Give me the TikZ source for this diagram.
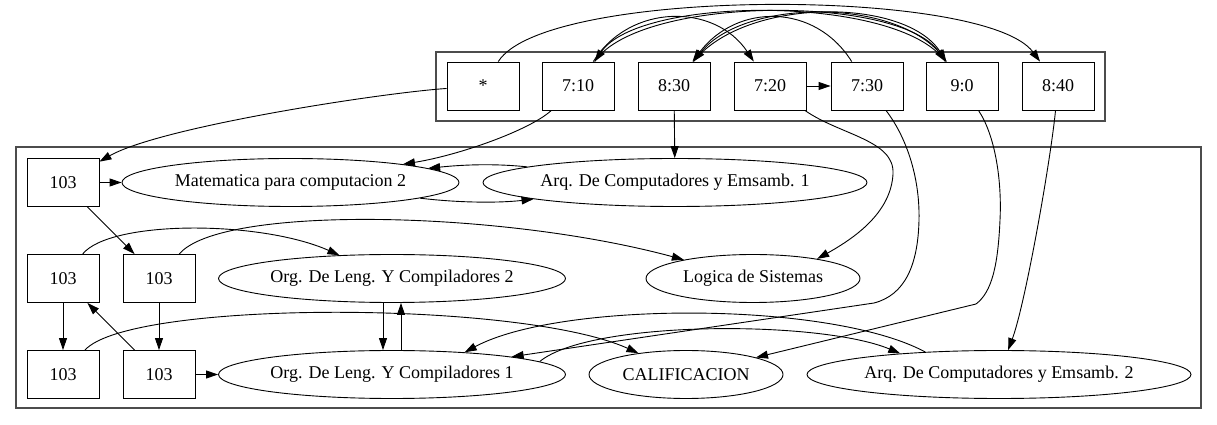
\documentclass[tikz,border=0pt]{standalone}
\usepackage{fontspec}
\setmainfont{Liberation Serif}
\usetikzlibrary{shapes.geometric,arrows.meta}

\tikzset{
  slot/.style={draw, rectangle, minimum width=72pt, minimum height=48pt, inner sep=0pt},
  curso/.style={draw, ellipse, minimum height=48pt, inner sep=0pt},
  grupo/.style={draw=black!70, line width=1.3pt}
}

\begin{document}
\begin{tikzpicture}[x=1pt,y=1pt,line width=0.9pt,
    >={Triangle[length=12pt,width=8pt]},
    font=\fontsize{18}{21}\selectfont]
  \useasboundingbox (0,0) rectangle (1217,425);

  \draw[grupo] (436,304) rectangle (1105,373);
  \draw[grupo] (16,17) rectangle (1201,278);

  % horarios
  \node[slot] (star) at (483,339) {*};
  \node[slot] (t710) at (578,339) {7:10};
  \node[slot] (t830) at (674,339) {8:30};
  \node[slot] (t720) at (770,339) {7:20};
  \node[slot] (t730) at (867,339) {7:30};
  \node[slot] (t900) at (962,339) {9:0};
  \node[slot] (t840) at (1058,339) {8:40};

  % salones y cursos
  \node[slot] (r1) at (63,242.5) {103};
  \node[curso, minimum width=337pt] (mat2) at (290.5,242.5) {Matematica para computacion 2};
  \node[curso, minimum width=384pt] (arq1) at (675,242.5) {Arq. De Computadores y Emsamb. 1};

  \node[slot] (r2a) at (63,146.5) {103};
  \node[slot] (r2b) at (159,146.5) {103};
  \node[curso, minimum width=347pt] (org2) at (392,146.5) {Org. De Leng. Y Compiladores 2};
  \node[curso, minimum width=214pt] (logica) at (753,146.5) {Logica de Sistemas};

  \node[slot] (r3a) at (63,50.5) {103};
  \node[slot] (r3b) at (159,50.5) {103};
  \node[curso, minimum width=347pt] (org1) at (392,50.5) {Org. De Leng. Y Compiladores 1};
  \node[curso, minimum width=194pt] (calif) at (686,50.5) {CALIFICACION};
  \node[curso, minimum width=384pt] (arq2) at (999,50.5) {Arq. De Computadores y Emsamb. 2};

  \draw[->] (star) .. controls (545,438) and (985,438) .. (t840);
  \draw[->] (t710) .. controls (640,430) and (900,430) .. (t900);
  \draw[->] (t900) .. controls (900,430) and (640,430) .. (t710);
  \draw[->] (t830) .. controls (745,428) and (905,428) .. (t900);
  \draw[->] (t900) .. controls (905,428) and (745,428) .. (t830);
  \draw[->] (t710) .. controls (630,422) and (715,422) .. (t720);
  \draw[->] (t730) .. controls (815,422) and (737,422) .. (t830);
  \draw[->] (t720) -- (t730);

  \draw[->] (star) .. controls (380,332) and (160,298) .. (r1);
  \draw[->] (t710) .. controls (530,295) and (460,270) .. (mat2);
  \draw[->] (arq1) .. controls (500,261) and (470,261) .. (mat2);
  \draw[->] (mat2) .. controls (460,222) and (500,222) .. (arq1);
  \draw[->] (t830) -- (arq1);
  \draw[->] (t720) .. controls (840,290) and (895,285) .. (893,251)
    .. controls (891,215) and (860,190) .. (logica.17);
  \draw[->] (t730) .. controls (905,290) and (920,250) .. (919,205)
    .. controls (918,160) and (905,130) .. (874,122) -- (org1);
  \draw[->] (t900) .. controls (995,290) and (1002,245) .. (1000,205)
    .. controls (998,160) and (992,133) .. (976,121) -- (calif);
  \draw[->] (t840) .. controls (1050,260) and (1025,120) .. (arq2);

  \draw[->] (r1) -- (mat2);
  \draw[->] (r1) -- (r2b);
  \draw[->] (r2a) .. controls (110,205) and (260,205) .. (org2);
  \draw[->] (r2b) .. controls (220,220) and (500,215) .. (logica);
  \draw[->] (r2a) -- (r3a);
  \draw[->] (r2b) -- (r3b);
  \draw[->] (r3b) -- (r2a);
  \draw[->] (r3b) -- (org1);
  \draw[->] ([xshift=-9pt]org2.south) -- ([xshift=-9pt]org1.north);
  \draw[->] ([xshift=9pt]org1.north) -- ([xshift=9pt]org2.south);
  \draw[->] (r3a) .. controls (130,125) and (520,125) .. (calif);
  \draw[->] (org1.5) .. controls (590,105) and (820,105) .. (arq2.168);
  \draw[->] (arq2.163) .. controls (830,124) and (560,124) .. (org1.17);
\end{tikzpicture}
\end{document}
